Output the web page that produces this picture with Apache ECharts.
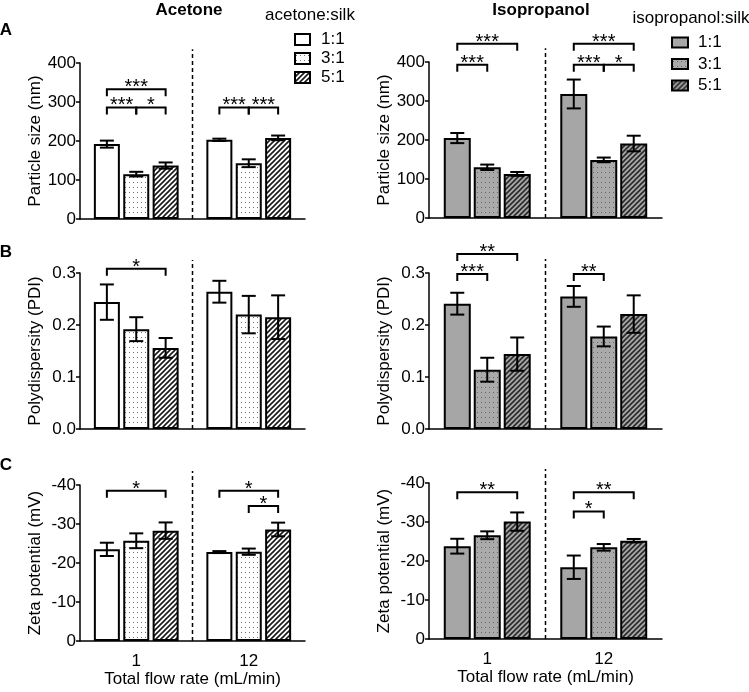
<!DOCTYPE html>
<html><head><meta charset="utf-8">
<script src="https://cdn.jsdelivr.net/npm/echarts@6/dist/echarts.min.js"></script>
<style>html,body{margin:0;padding:0;background:#fff}#c{width:749px;height:692px}</style>
</head><body><div id="c"></div>
<script>
// ---------------- DATA ----------------
const flowRates = ['1', '12'];
const ratios = ['1:1', '3:1', '5:1'];
// values indexed [ratio][flowRate]
const aceSize    = [[192, 203], [115, 143], [137, 208]];
const aceSizeErr = [[9, 3], [6, 10], [8, 6]];
const isoSize    = [[205, 318], [130, 149], [113, 191]];
const isoSizeErr = [[13, 37], [7, 6], [5, 20]];
const acePdi     = [[0.244, 0.264], [0.192, 0.220], [0.156, 0.215]];
const acePdiErr  = [[0.034, 0.021], [0.023, 0.036], [0.019, 0.042]];
const isoPdi     = [[0.241, 0.255], [0.114, 0.178], [0.144, 0.221]];
const isoPdiErr  = [[0.021, 0.020], [0.023, 0.019], [0.032, 0.036]];
const aceZeta    = [[-23.5, -22.8], [-25.7, -22.9], [-28.3, -28.6]];
const aceZetaErr = [[1.7, 0.25], [1.9, 0.8], [2.1, 1.75]];
const isoZeta    = [[-23.8, -18.4], [-26.6, -23.5], [-30.1, -25.2]];
const isoZetaErr = [[1.9, 3.0], [1.0, 0.85], [2.35, 0.45]];
// significance brackets: [flowRateIndex, fromRatio, toRatio, level, label]
const aceSizeSig = [[0, 0, 2, 333, '***'], [0, 0, 1, 286, '***'], [0, 1, 2, 286, '*'], [1, 0, 1, 286, '***'], [1, 1, 2, 286, '***']];
const isoSizeSig = [[0, 0, 2, 447, '***'], [0, 0, 1, 393, '***'], [1, 0, 2, 447, '***'], [1, 0, 1, 393, '***'], [1, 1, 2, 393, '*']];
const acePdiSig  = [[0, 0, 2, 0.308, '*']];
const isoPdiSig  = [[0, 0, 2, 0.3365, '**'], [0, 0, 1, 0.298, '***'], [1, 0, 1, 0.298, '**']];
const aceZetaSig = [[0, 0, 2, -38.5, '*'], [1, 0, 2, -38.5, '*'], [1, 1, 2, -34.6, '*']];
const isoZetaSig = [[0, 0, 2, -37.6, '**'], [1, 0, 2, -37.6, '**'], [1, 0, 1, -32.7, '*']];
// tick values
const sizeTicks = [0, 100, 200, 300, 400];
const pdiTicks = [0, 0.1, 0.2, 0.3];
const zetaTicks = [-40, -30, -20, -10, 0];

// ---------------- STYLE ----------------
const FONT = '"Liberation Sans", Arial, Helvetica, sans-serif';
function pattern(bg, kind, fg) {
  const c = document.createElement('canvas');
  const x = c.getContext('2d');
  if (kind === 'dots') {
    c.width = 4; c.height = 5;
    x.fillStyle = bg; x.fillRect(0, 0, 4, 5);
    x.fillStyle = fg; x.fillRect(1, 2, 1, 1);
  } else {
    const p = 5; c.width = p; c.height = p;
    x.fillStyle = bg; x.fillRect(0, 0, p, p);
    x.strokeStyle = fg; x.lineWidth = 1.6; x.beginPath();
    for (const s of [-p, 0, p]) { x.moveTo(s - 1, p + 1); x.lineTo(s + p + 1, -1); }
    x.stroke();
  }
  return { image: c, repeat: 'repeat' };
}
const acePal = ['#ffffff', pattern('#ffffff', 'dots', '#707070'), pattern('#ffffff', 'stripes', '#1a1a1a')];
const isoPal = ['#a6a6a6', pattern('#aaaaaa', 'dots', '#666666'), pattern('#a8a8a8', 'stripes', '#2a2a2a')];

const panels = [
  { left: 80, top: 63, width: 225, vals: aceSize, errs: aceSizeErr, sig: aceSizeSig, ticks: sizeTicks, name: 'Particle size (nm)', dec: 0, dash: 435, pal: acePal, pre: 'acetone', bw: 26, gap: 0.13, row: 0 },
  { left: 429, top: 62, width: 233, vals: isoSize, errs: isoSizeErr, sig: isoSizeSig, ticks: sizeTicks, name: 'Particle size (nm)', dec: 0, dash: 435, pal: isoPal, pre: 'isopropanol', bw: 27, gap: 0.11, row: 0 },
  { left: 80, top: 273, width: 225, vals: acePdi, errs: acePdiErr, sig: acePdiSig, ticks: pdiTicks, name: 'Polydispersity (PDI)', dec: 1, dash: 0.325, pal: acePal, pre: 'acetone', bw: 26, gap: 0.13, row: 1 },
  { left: 429, top: 273, width: 233, vals: isoPdi, errs: isoPdiErr, sig: isoPdiSig, ticks: pdiTicks, name: 'Polydispersity (PDI)', dec: 1, dash: 0.327, pal: isoPal, pre: 'isopropanol', bw: 27, gap: 0.11, row: 1 },
  { left: 80, top: 485, width: 225, vals: aceZeta, errs: aceZetaErr, sig: aceZetaSig, ticks: zetaTicks, name: 'Zeta potential (mV)', dec: 0, dash: -43.6, pal: acePal, pre: 'acetone', bw: 26, gap: 0.13, row: 2, inverse: true },
  { left: 429, top: 483, width: 233, vals: isoZeta, errs: isoZetaErr, sig: isoZetaSig, ticks: zetaTicks, name: 'Zeta potential (mV)', dec: 0, dash: -43.6, pal: isoPal, pre: 'isopropanol', bw: 27, gap: 0.11, row: 2, inverse: true }
];

const black = { color: '#000', width: 1.5 };
const txt = { fontSize: 17, color: '#000', fontFamily: FONT };
const grids = [], xAxes = [], yAxes = [], series = [];

panels.forEach((p, i) => {
  const step = p.bw * (1 + p.gap);
  grids.push({ left: p.left, top: p.top, width: p.width, height: 156, outerBoundsMode: 'none' });
  xAxes.push({
    gridIndex: i, type: 'category', data: flowRates,
    axisTick: { show: false }, axisLine: { lineStyle: black },
    axisLabel: Object.assign({ show: p.row === 2, margin: 12 }, txt),
    name: p.row === 2 ? 'Total flow rate (mL/min)' : '',
    nameLocation: 'middle', nameGap: 30, nameTextStyle: txt
  });
  const tk = p.ticks;
  yAxes.push({
    gridIndex: i, type: 'value', min: Math.min(...tk), max: Math.max(...tk),
    interval: Math.abs(tk[1] - tk[0]),
    inverse: !!p.inverse,
    axisLine: { show: true, lineStyle: black },
    axisTick: { show: true, length: 4, lineStyle: black },
    splitLine: { show: false },
    axisLabel: Object.assign({ margin: 4, formatter: v => (+v).toFixed(p.dec) }, txt),
    name: p.name, nameLocation: 'middle', nameGap: 36, nameTextStyle: txt
  });
  ratios.forEach((r, k) => {
    series.push({
      type: 'bar', name: p.pre + ' ' + r, xAxisIndex: i, yAxisIndex: i,
      data: p.vals[k], barWidth: p.bw, barGap: (p.gap * 100) + '%',
      itemStyle: { color: p.pal[k], borderColor: '#000', borderWidth: 2 },
      emphasis: { disabled: true }, z: 2
    });
  });
  // error bars
  const errRows = [];
  ratios.forEach((r, k) => flowRates.forEach((f, g) => errRows.push([g, p.vals[k][g], p.errs[k][g], k])));
  series.push({
    type: 'custom', xAxisIndex: i, yAxisIndex: i, data: errRows, clip: false, z: 5, silent: true,
    renderItem: (params, api) => {
      const g = api.value(0), v = api.value(1), e = api.value(2), k = api.value(3);
      const t = api.coord([g, v + e]), b = api.coord([g, v - e]);
      const x = t[0] + (k - 1) * step, hw = 7;
      const st = { stroke: '#000', lineWidth: 2 };
      return { type: 'group', children: [
        { type: 'line', shape: { x1: x, y1: t[1], x2: x, y2: b[1] }, style: st },
        { type: 'line', shape: { x1: x - hw, y1: t[1], x2: x + hw, y2: t[1] }, style: st },
        { type: 'line', shape: { x1: x - hw, y1: b[1], x2: x + hw, y2: b[1] }, style: st }
      ] };
    }
  });
  // significance brackets
  series.push({
    type: 'custom', xAxisIndex: i, yAxisIndex: i, data: p.sig.map(s => [s[0], s[3]]), clip: false, z: 5, silent: true,
    renderItem: (params, api) => {
      const s = p.sig[params.dataIndex];
      const c = api.coord([s[0], s[3]]);
      const xa = c[0] + (s[1] - 1) * step, xb = c[0] + (s[2] - 1) * step, y = c[1], tl = 7;
      return { type: 'group', children: [
        { type: 'polyline', shape: { points: [[xa, y + tl], [xa, y], [xb, y], [xb, y + tl]] }, style: { stroke: '#000', lineWidth: 2, fill: null } },
        { type: 'text', x: (xa + xb) / 2, y: y - 1.5, style: { text: s[4], fontSize: 20, fontFamily: FONT, fill: '#000', align: 'center', verticalAlign: 'middle', textAlign: 'center', textVerticalAlign: 'middle' } }
      ] };
    }
  });
  // dashed divider between flow rates
  series.push({
    type: 'custom', xAxisIndex: i, yAxisIndex: i, data: [[0, p.dash]], clip: false, z: 1, silent: true,
    renderItem: (params, api) => {
      const a = api.coord([0, 0]), b = api.coord([1, 0]), t = api.coord([0, p.dash]);
      const x = (a[0] + b[0]) / 2;
      return { type: 'line', shape: { x1: x, y1: a[1], x2: x, y2: t[1] }, style: { stroke: '#000', lineWidth: 1.5, lineDash: [4, 3] } };
    }
  });
});

function gtext(text, x, y, bold, align) {
  return { type: 'text', x: x, y: y, silent: true,
    style: { text: text, fontSize: 17, fontWeight: bold ? 'bold' : 'normal', fontFamily: FONT, fill: '#000',
      align: align || 'center', verticalAlign: 'middle', textAlign: align || 'center', textVerticalAlign: 'middle' } };
}

const legendBase = {
  orient: 'vertical', icon: 'rect', selectedMode: false,
  formatter: n => n.split(' ')[1]
};

const option = {
  animation: false,
  backgroundColor: '#fff',
  textStyle: { fontFamily: FONT },
  grid: grids, xAxis: xAxes, yAxis: yAxes, series: series,
  legend: [
    Object.assign({}, legendBase, { data: ratios.map(r => 'acetone ' + r), left: 289, top: 26, itemWidth: 15, itemHeight: 11, itemGap: 2,
      textStyle: Object.assign({ padding: [0, 0, 0, 6], lineHeight: 17 }, txt) }),
    Object.assign({}, legendBase, { data: ratios.map(r => 'isopropanol ' + r), left: 666, top: 29, itemWidth: 16, itemHeight: 10, itemGap: 4.5,
      textStyle: Object.assign({ padding: [0, 0, 0, 5], lineHeight: 17 }, txt) })
  ],
  graphic: [
    gtext('Acetone', 189, 10, true),
    gtext('Isopropanol', 541, 10, true),
    gtext('acetone:silk', 310, 15, false),
    gtext('isopropanol:silk', 691, 18, false),
    gtext('A', 6, 30, true),
    gtext('B', 6, 252, true),
    gtext('C', 6, 465, true)
  ]
};
const chart = echarts.init(document.getElementById('c'), null, { renderer: 'canvas' });
chart.setOption(option);
</script></body></html>
